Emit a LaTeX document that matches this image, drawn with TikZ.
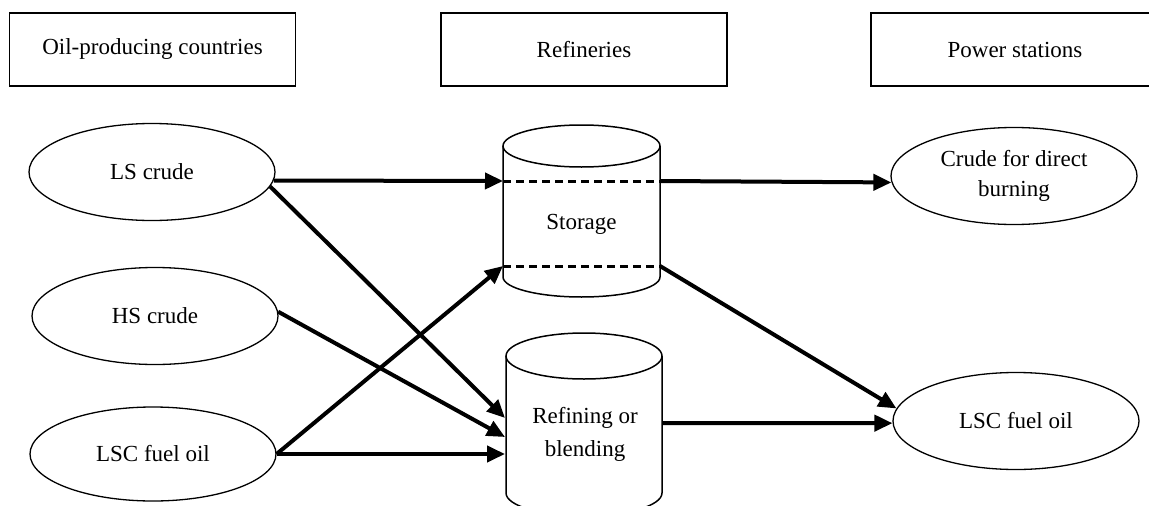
\documentclass[tikz,border=0pt]{standalone}
\usepackage{fontspec}
\setmainfont{Liberation Serif}
\usetikzlibrary{shapes.geometric,arrows.meta}
\begin{document}
\begin{tikzpicture}[x=1pt,y=-1pt,
  every node/.style={font=\fontsize{23}{33}\selectfont, align=center},
  header/.style={draw, line width=1.3pt, minimum width=286pt, minimum height=73pt, inner sep=0pt},
  oval/.style={draw, ellipse, line width=1.3pt, minimum width=246pt, minimum height=97pt, inner sep=0pt},
  flow/.style={line width=4pt, -{Triangle[length=18pt,width=16pt]}},
  tank/.style={line width=1.5pt},
  level/.style={line width=3pt, dash pattern=on 8pt off 5pt}]
\useasboundingbox (0,0) rectangle (1149,506);
\clip (0,0) rectangle (1149,506);

% column headers
\node[header] (hOil) at (152.5,49.5) {Oil-producing countries};
\node[header] (hRef) at (584,49.5) {Refineries};
\node[header, minimum width=288pt] (hPow) at (1015,49.5) {Power stations};

% sources
\node[oval] (ls)   at (152,172) {LS crude};
\node[oval] (hs)   at (155,316) {HS crude};
\node[oval, minimum height=94pt] (lscL) at (153,454) {LSC fuel oil};

% destinations
\node[oval] (cd)   at (1014,176) {\raisebox{-3pt}{Crude for direct}\\burning};
\node[oval] (lscR) at (1016,421) {LSC fuel oil};

% storage tank
\draw[tank] (503,146) -- (503,277)
  arc[start angle=180, end angle=360, x radius=78.5pt, y radius=20pt] -- (660,146);
\draw[tank] (581.5,146) ellipse [x radius=78.5pt, y radius=21pt];
\draw[level] (503,181) -- (660,181);
\draw[level] (503,266) -- (660,266);
\node (sto) at (581.5,224) {Storage};

% refining tank
\draw[tank] (506,356) -- (506,493)
  arc[start angle=180, end angle=360, x radius=78pt, y radius=23pt] -- (662,356);
\draw[tank] (584,356) ellipse [x radius=78pt, y radius=23pt];
\node (ref) at (585,434) {Refining or\\blending};

% connection points on the tanks
\coordinate (stoInA)  at (503,181);
\coordinate (stoInB)  at (503,266);
\coordinate (stoOutA) at (660,181);
\coordinate (stoOutB) at (660,266);
\coordinate (refInA)  at (505,418);
\coordinate (refInB)  at (505,437);
\coordinate (refInC)  at (505,454);
\coordinate (refOut)  at (662,423);

% flows
\draw[flow] (ls.-4) -- (stoInA);
\draw[flow] (ls.-7) -- (refInA);
\draw[flow] (hs.2) -- (refInB);
\draw[flow] (lscL.east) -- (stoInB);
\draw[flow] (lscL.east) -- (refInC);
\draw[flow] (stoOutA) -- (cd.183);
\draw[flow] (stoOutB) -- (lscR.174);
\draw[flow] (refOut) -- (lscR.181);
\end{tikzpicture}
\end{document}
